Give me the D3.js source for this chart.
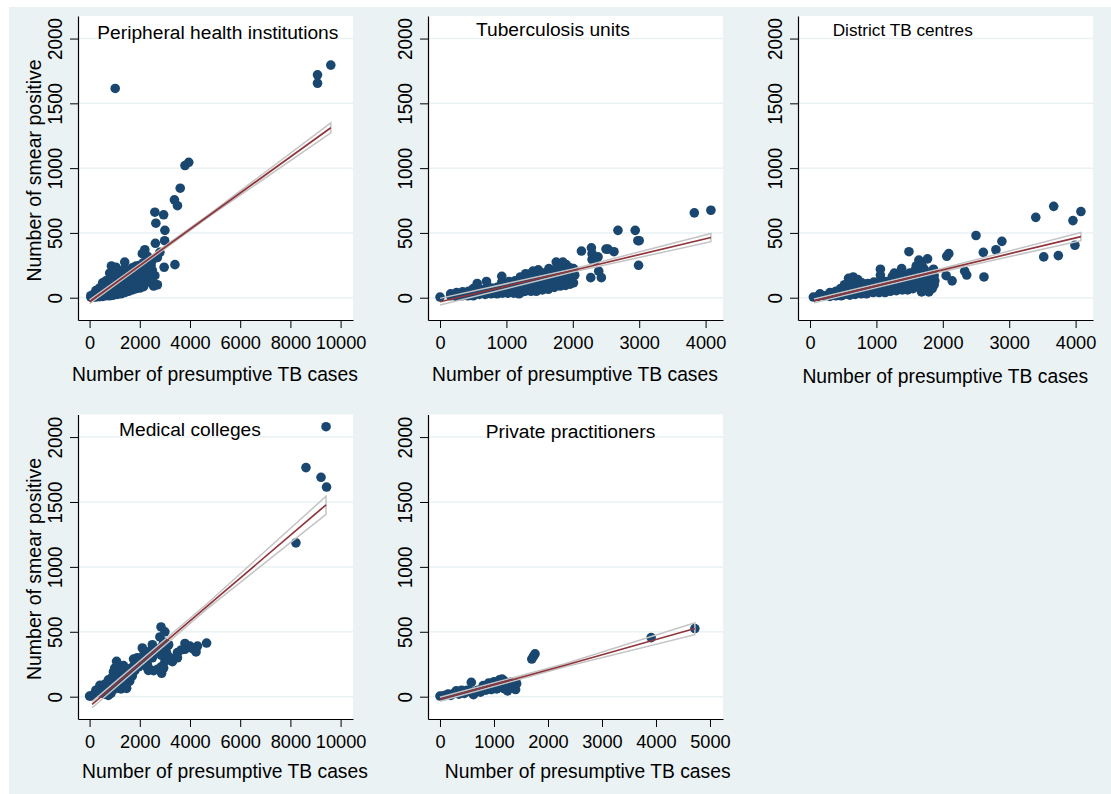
<!DOCTYPE html>
<html><head>
<meta charset="utf-8">
<script src="https://d3js.org/d3.v7.min.js"></script>
<style>
  html, body { margin: 0; padding: 0; background: #ffffff; }
  svg { display: block; }
  text { font-family: "Liberation Sans", Arial, sans-serif; fill: #000; }
</style>
</head>
<body>
<svg id="chart" width="1111" height="794"></svg>
<script>
  // values: [presumptive cases, smear positive]
  const phiPoints = [[1020,1615],[9080,1720],[9080,1655],[9610,1795],[3800,1020],[3950,1045],[3610,845],[3380,755],[3500,710],[2600,660],[2950,640],[2640,575],[3000,520],[2620,420],[2990,440],[2200,370],[2100,340],[3400,255],[2970,235],[2600,100],[2700,100],[2550,90],[2600,170],[2500,210],[1400,275],[870,245],[1050,235],[800,190],[1900,240],[2300,320],[2500,290],[2800,350],[2700,310],
    [50,5],[50,15],[150,5],[150,25],[250,5],[250,30],[250,55],[400,8],[400,40],[400,75],[520,10],[520,50],[520,90],[520,115],[650,15],[650,55],[650,100],[650,130],[800,15],[800,60],[800,105],[800,150],[950,20],[950,65],[950,110],[950,155],[950,200],[1100,25],[1100,70],[1100,115],[1100,160],[1100,215],[1250,30],[1250,75],[1250,120],[1250,165],[1250,200],[1400,40],[1400,85],[1400,130],[1400,175],[1400,225],[1550,50],[1550,95],[1550,140],[1550,185],[1700,60],[1700,105],[1700,150],[1700,195],[1700,230],[1850,70],[1850,115],[1850,160],[1850,205],[1850,245],[2000,75],[2000,120],[2000,165],[2000,210],[2000,250],[2150,85],[2150,130],[2150,175],[2150,220],[2150,270],[2300,120],[2300,165],[2300,210],[2300,260],[2450,150],[2450,200],[2450,250],
    [1175,50],[1325,55],[1475,70],[1625,80],[1775,90],[1925,100],[2075,105],[1175,95],[1325,100],[1475,110],[1625,125],[1775,135],[1925,140],[2075,150],[2225,150],[2225,195],[2375,185],[2375,235],[1175,140],[1325,145],[1475,155],[1625,170],[1775,180],[1925,185],[2075,195],[2225,240],[725,35],[725,80],[875,40],[875,85],[875,130],[1025,45],[1025,90],[1025,135],[1025,180],[450,25],[580,30],[580,70]];

  const tuPoints = [[0,5],[2130,360],[2280,385],[2290,295],[2380,315],[2500,375],[2530,375],[2620,355],[2680,520],[2940,520],[2980,440],[3000,440],[2990,250],[3830,655],[4080,675],[2270,155],[2390,205],[2430,155],[2340,290],[2290,340],
    [160,15],[160,30],[240,10],[250,40],[330,15],[340,45],[420,15],[430,50],[500,15],[510,50],[500,70],[560,110],[590,25],[600,65],[680,25],[690,70],[700,125],[770,30],[780,75],[860,30],[860,80],[930,165],[930,120],[940,35],[950,80],[1020,35],[1030,85],[1040,125],[1110,35],[1120,85],[1130,130],[1190,30],[1200,75],[1210,120],[1210,160],[1280,50],[1290,95],[1290,140],[1290,185],[1370,50],[1370,95],[1370,140],[1380,190],[1400,205],[1450,50],[1460,95],[1460,140],[1460,185],[1480,215],[1540,60],[1550,105],[1550,150],[1560,190],[1630,65],[1640,110],[1640,150],[1650,195],[1640,225],[1720,80],[1720,125],[1730,170],[1730,215],[1750,275],[1790,250],[1810,90],[1810,135],[1810,180],[1810,225],[1850,275],[1890,95],[1890,140],[1890,185],[1900,255],[1890,225],[1960,105],[1970,150],[1970,195],[1960,230],[2030,175],[2010,115],[2010,225],
    [1240,45],[1330,70],[1410,75],[1500,80],[1590,85],[1680,95],[1770,110],[1850,115],[1930,125],[1240,100],[1330,120],[1410,120],[1500,125],[1590,130],[1680,150],[1770,155],[1850,160],[1930,165],[1330,165],[1420,165],[1510,170],[1600,170],[1690,190],[1770,200],[1850,205],[1150,60],[1070,60],[990,60],[900,55],[820,50],[730,50],[640,45],[550,40]];

  const dtcPoints = [[3670,705],[3400,620],[3960,595],[4080,665],[2890,435],[2800,370],[2610,350],[2500,480],[3990,405],[3520,315],[3740,325],[2620,160],[2050,170],[2140,130],[2330,205],[2360,175],[2060,320],[2090,340],[1490,355],[1770,300],[1060,220],[1640,290],[1380,225],[1270,190],
    [50,5],[120,10],[150,30],[220,15],[300,10],[300,40],[390,15],[390,50],[470,15],[460,70],[520,25],[540,65],[520,100],[580,150],[600,20],[610,60],[610,105],[650,160],[680,25],[690,70],[690,115],[720,140],[770,30],[770,70],[780,115],[850,30],[860,70],[870,110],[950,40],[960,80],[960,120],[1040,40],[1040,85],[1050,130],[1060,175],[1130,40],[1130,85],[1140,125],[1210,50],[1220,90],[1220,130],[1240,165],[1300,55],[1310,100],[1320,145],[1390,60],[1390,105],[1390,150],[1380,190],[1470,60],[1470,105],[1480,150],[1500,190],[1560,120],[1570,160],[1580,210],[1600,245],[1650,80],[1650,125],[1650,170],[1660,215],[1680,45],[1680,255],[1720,90],[1730,135],[1730,180],[1720,220],[1790,45],[1800,90],[1800,130],[1800,175],[1870,100],[1880,130],[1870,170],[1860,220],
    [640,130],[600,135],[1550,70],[1610,85],[1740,60],[1840,70],[1600,200],[1690,240],[1430,130],[1520,150],[1260,110],[1170,100],[1090,105],[900,90],[810,85],[730,90],[350,30],[430,35],[1000,60],[1090,60],[1180,70],[1350,80],[1440,85]];

  const mcPoints = [[0,5],[60,5],[200,25],[410,87],[300,40],[500,30],[600,20],[745,10],[850,25],[700,60],[600,95],[750,130],[900,150],[1000,220],[1075,272],[950,190],[1100,160],[1150,110],[1050,70],[1250,60],[1475,64],[1350,100],[1500,130],[1200,200],[1350,240],[1300,170],[1600,120],[1700,160],[1500,200],[1650,220],[1750,290],[1900,300],[1800,250],[1950,260],[2100,375],[2200,280],[2300,250],[2400,210],[2340,203],[2550,200],[2500,400],[2600,350],[2400,350],[2800,460],[2845,537],[3000,500],[2950,420],[3150,400],[3200,300],[3000,270],[2870,180],[2850,230],[3300,270],[3500,300],[3500,340],[3800,365],[3800,410],[4240,345],[4300,390],[4660,413],[4100,370],[2200,240],[8220,1185],[8620,1765],[9220,1690],[9440,1615],[9420,2080],
    [450,50],[800,90],[950,110],[1000,60],[1200,150],[1000,150],[1100,210],[1250,110],[1400,160],[1450,90],[1600,180],[1700,210],[1800,200],[1950,230],[2050,260],[2150,320],[2300,310],[2500,300],[2750,350],[2850,380],[2850,320],[3050,350],[3100,320],[2700,210],[2950,220],[3650,360],[4000,390],[1150,240],[850,120],[650,40],[250,50],[400,30],[1400,210],[1550,160]];

  const ppPoints = [[3910,455],[4720,525],[1700,290],[1760,330],[1730,310],[580,110],[0,5],[50,5],[100,10],[150,20],[200,10],[250,25],[300,45],[350,20],[450,25],[500,50],[550,40],[620,15],[650,40],[700,50],[800,60],[800,85],[900,70],[900,105],[1000,80],[1000,115],[1050,60],[1100,130],[1150,135],[1120,90],[1200,60],[1200,110],[1250,45],[1300,70],[1350,100],[1400,55],[1420,100],[1300,110],[400,50],[600,30],
    [750,35],[850,50],[950,55],[1070,100],[1150,70],[1250,85],[1350,70],[1050,85],[1180,125]];

  // fitted line and the edges of its confidence band
  const phiFitX = [0,4800,9610], phiFit = [-31,640,1312], phiLo = [-45,631,1272], phiHi = [-17,649,1350];
  const tuFitX = [0,2000,4080], tuFit = [-31,210,465], tuLo = [-57,198,432], tuHi = [-5,222,496];
  const dtcFitX = [60,2000,4080], dtcFit = [-25,215,472], dtcLo = [-40,203,440], dtcHi = [-10,227,504];
  const mcFitX = [100,4700,9420], mcFit = [-60,700,1478], mcLo = [-85,680,1405], mcHi = [-38,720,1544];
  const ppFitX = [0,2300,4720], ppFit = [-20,240,525], ppLo = [-35,228,478], ppHi = [-5,252,570];

  const yTicks = [0,500,1000,1500,2000];
  const xTicksWide = [0,2000,4000,6000,8000,10000];
  const xTicksFour = [0,1000,2000,3000,4000];
  const xTicksFive = [0,1000,2000,3000,4000,5000];
  const yDomain = [-172,2174];

  const xTitle = "Number of presumptive TB cases";
  const yTitle = "Number of smear positive";

  const panels = [
    {name:"Peripheral health institutions", size:19.2, pts:phiPoints, fx:phiFitX, fit:phiFit, lo:phiLo, hi:phiHi, ticks:xTicksWide, dom:[-462,10494],
     box:[78,16,275,304], tx:97.3, ty:39, xtx:215, showY:true},
    {name:"Tuberculosis units", size:19.2, pts:tuPoints, fx:tuFitX, fit:tuFit, lo:tuLo, hi:tuHi, ticks:xTicksFour, dom:[-181,4262],
     box:[428,16,295,304], tx:476, ty:36, xtx:575, showY:false},
    {name:"District TB centres", size:17.2, pts:dtcPoints, fx:dtcFitX, fit:dtcFit, lo:dtcLo, hi:dtcHi, ticks:xTicksFour, dom:[-181,4262],
     box:[798,16,295,304], tx:832.7, ty:36, xtx:945.3, showY:false, titleDrop:1.5},
    {name:"Medical colleges", size:19.2, pts:mcPoints, fx:mcFitX, fit:mcFit, lo:mcLo, hi:mcHi, ticks:xTicksWide, dom:[-462,10494],
     box:[78,414.5,275,304.5], tx:119, ty:436, xtx:225, showY:true},
    {name:"Private practitioners", size:19.2, pts:ppPoints, fx:ppFitX, fit:ppFit, lo:ppLo, hi:ppHi, ticks:xTicksFive, dom:[-222,5241],
     box:[428,414.5,295,304.5], tx:485.7, ty:437.7, xtx:587.7, showY:false}
  ];

  const navy = "#1a476f", maroon = "#90353b", bandGray = "#c4c4c4", bg = "#eaf2f3";

  const svg = d3.select("svg#chart");
  svg.append("rect").attr("x",9).attr("y",7).attr("width",1102).attr("height",787).attr("fill",bg);

  panels.forEach(p => {
    const [left, top, w, h] = p.box;
    const x = d3.scaleLinear().domain(p.dom).range([left, left + w]);
    const y = d3.scaleLinear().domain(yDomain).range([top + h, top]);
    const g = svg.append("g");

    g.append("rect").attr("x",left).attr("y",top).attr("width",w).attr("height",h).attr("fill","#fff");

    // grid
    g.selectAll("line.grid").data(yTicks).join("line")
      .attr("class","grid")
      .attr("x1",left).attr("x2",left + w)
      .attr("y1",d => y(d)).attr("y2",d => y(d))
      .attr("stroke",bg).attr("stroke-width",1.5);

    // points
    g.selectAll("circle").data(p.pts).join("circle")
      .attr("cx",d => x(d[0])).attr("cy",d => y(d[1]))
      .attr("r",4.8).attr("fill",navy);

    // confidence band as an outline, closed at the right end
    const band = p.fx.map((v,i) => [v,p.hi[i]]).concat(p.fx.map((v,i) => [v,p.lo[i]]).reverse());
    g.append("path")
      .attr("d",d3.line().x(d => x(d[0])).y(d => y(d[1]))(band))
      .attr("fill","none").attr("stroke",bandGray).attr("stroke-width",1.5);

    g.append("path")
      .attr("d",d3.line().x((d,i) => x(p.fx[i])).y(d => y(d))(p.fit))
      .attr("fill","none").attr("stroke",maroon).attr("stroke-width",1.7);

    // axes
    const xAxis = g.append("g").attr("transform",`translate(0,${top + h})`)
      .call(d3.axisBottom(x).tickValues(p.ticks).tickSize(8).tickSizeOuter(0).tickFormat(d3.format("d")));
    const yAxis = g.append("g").attr("transform",`translate(${left},0)`)
      .call(d3.axisLeft(y).tickValues(yTicks).tickSize(8).tickSizeOuter(0).tickFormat(d3.format("d")));
    [xAxis, yAxis].forEach(a => {
      a.select(".domain").attr("stroke","#000").attr("stroke-width",1.2);
      a.selectAll(".tick line").attr("stroke","#000").attr("stroke-width",1);
    });
    xAxis.selectAll("text").attr("font-size",18.2).attr("dy",null).attr("y",29);
    yAxis.selectAll("text").attr("font-size",18.8).attr("x",null).attr("dy",null)
      .attr("text-anchor","middle").attr("transform","translate(-16.3,0) rotate(-90) scale(1,1.1)");

    // labels
    g.append("text").attr("x",p.tx).attr("y",p.ty).attr("font-size",p.size).text(p.name);
    g.append("text").attr("x",p.xtx).attr("y",top + h + 61 + (p.titleDrop || 0) - (top > 100 ? 2.3 : 0))
      .attr("text-anchor","middle").attr("font-size",19.3).text(xTitle);
    if (p.showY) {
      g.append("text").attr("text-anchor","middle").attr("font-size",19.5)
        .attr("transform",`translate(40.7,${top + 154.5}) rotate(-90)`).text(yTitle);
    }
  });
</script>
</body>
</html>
